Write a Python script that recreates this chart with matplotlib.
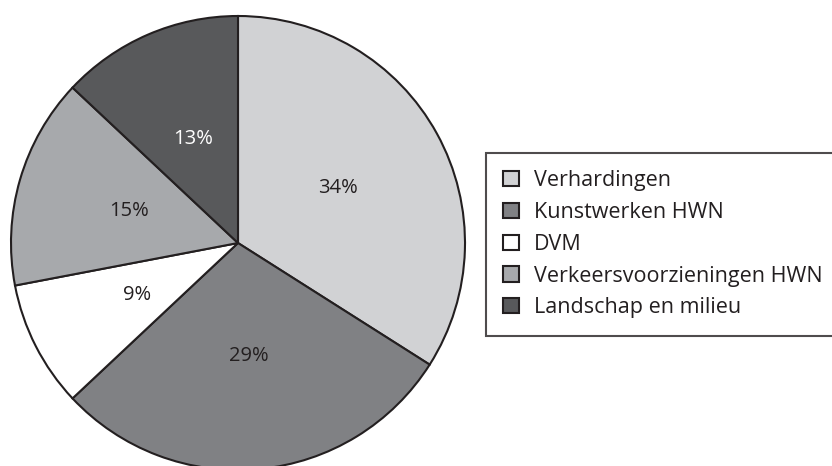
import matplotlib.pyplot as plt

labels = ['Verhardingen', 'Kunstwerken HWN', 'DVM', 'Verkeersvoorzieningen HWN', 'Landschap en milieu']
shares = [34, 29, 9, 15, 13]
colors = ['#d1d2d4', '#808184', '#ffffff', '#a7a9ac', '#58595b']
text_colors = ['#231f20', '#231f20', '#231f20', '#231f20', '#ffffff']

plt.rcParams['font.family'] = ['Open Sans', 'DejaVu Sans']

fig = plt.figure(figsize=(8.32, 4.66), dpi=100)
# pie centre ~ (238, 243) px, radius ~ 227 px
ax = fig.add_axes([11 / 832, -4 / 466, 454 / 832, 454 / 466])

wedges, texts, autotexts = ax.pie(
    shares, colors=colors, startangle=90, counterclock=False,
    autopct=lambda p: f'{p:.0f}%', pctdistance=0.5,
    wedgeprops=dict(edgecolor='#231f20', linewidth=1.5),
    textprops=dict(fontsize=14.5))
for t, c in zip(autotexts, text_colors):
    t.set_color(c)
ax.set_xlim(-1, 1)
ax.set_ylim(-1, 1)
ax.axis('off')

leg = fig.legend(wedges, labels, loc='upper left',
                 bbox_to_anchor=(486 / 832, 1 - 153 / 466, 0.5, 0.0),
                 mode='expand', fontsize=15.5, frameon=True, fancybox=False,
                 handlelength=0.72, handleheight=0.72, handletextpad=0.72,
                 labelspacing=0.5, borderpad=0.8, borderaxespad=0)
leg.get_frame().set_edgecolor('#231f20')
leg.get_frame().set_linewidth(1.5)
for h in leg.legend_handles:
    h.set_edgecolor('#231f20')
    h.set_linewidth(1.5)
for t in leg.get_texts():
    t.set_color('#231f20')

fig.savefig('out.png', dpi=100)
